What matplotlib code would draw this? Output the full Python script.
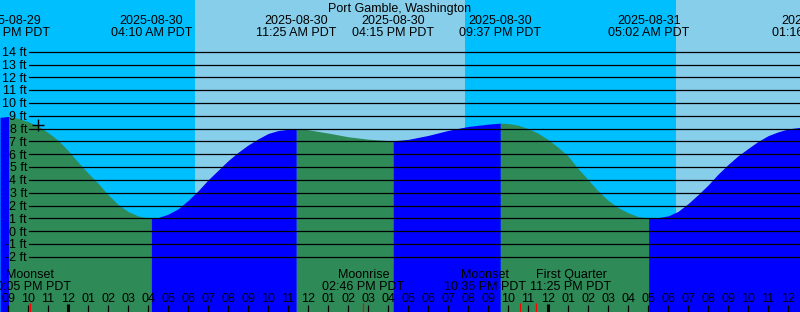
import matplotlib
matplotlib.use('Agg')
import numpy as np
import matplotlib.pyplot as plt
from matplotlib.transforms import blended_transform_factory, offset_copy

# === 数据 (时间: 距 2025-08-30 00:00 PDT 的小时数) ===
station = 'Port Gamble, Washington'

# 潮位曲线 (从图上读取, ft)
curve_hours = [-3.4, -3.0, -2.95, -2.5, -2, -1.5, -1, -0.5, 0, 0.5, 1, 1.5, 2, 2.5, 3, 3.5,
               4, 4.167, 4.5, 5, 5.5, 6, 6.5, 7, 7.5, 8, 8.5, 9, 9.5, 10, 10.5, 11, 11.417,
               12, 13, 14, 15, 16, 16.25, 17, 18, 19, 20, 21, 21.617,
               22, 22.5, 23, 23.5, 24, 24.5, 25, 25.5, 26, 26.5, 27, 27.5, 28, 28.5, 29,
               29.033, 29.5, 30, 30.5, 31, 31.5, 32, 32.5, 33, 33.5, 34, 34.5, 35, 35.5,
               36, 36.6]
curve_ft = [8.88, 8.95, 8.95, 8.8, 8.55, 8.2, 7.7, 7.1, 6.3, 5.4, 4.54, 3.75, 2.86, 2.1,
            1.55, 1.2, 1.02, 1.0, 1.07, 1.33, 1.75, 2.4, 3.15, 4.0, 4.75, 5.5, 6.15, 6.72,
            7.2, 7.62, 7.85, 7.95, 8.0,
            7.92, 7.66, 7.37, 7.18, 7.07, 7.05, 7.16, 7.47, 7.86, 8.17, 8.35, 8.43,
            8.4, 8.28, 8.0, 7.65, 7.15, 6.55, 5.87, 4.9, 4.03, 3.15, 2.42, 1.85, 1.45,
            1.15, 1.03, 1.02, 1.06, 1.2, 1.55, 2.15, 2.85, 3.6, 4.45, 5.2, 5.88, 6.45,
            7.0, 7.45, 7.75, 7.98, 8.1]

# 高低潮
ext_hours = [-2.95, 4.167, 11.417, 16.25, 21.617, 29.033, 37.267]
ext_dates = ['2025-08-29', '2025-08-30', '2025-08-30', '2025-08-30', '2025-08-30',
             '2025-08-31', '2025-08-31']
ext_times = ['09:03 PM PDT', '04:10 AM PDT', '11:25 AM PDT', '04:15 PM PDT',
             '09:37 PM PDT', '05:02 AM PDT', '01:16 PM PDT']

# 月相事件
moon_hours = [-1.917, 14.767, 22.6, 23.417]
moon_names = ['Moonset', 'Moonrise', 'Moonset', 'First Quarter']
moon_times = ['10:05 PM PDT', '02:46 PM PDT', '10:36 PM PDT', '11:25 PM PDT']
moon_shift = [0, 0, -1.75, 1.73]   # 标签避让

# 日出日落
sunrise_hours = [6.35, 30.4]
sunset_hours = [19.85]

levels = list(range(-2, 15))

# === 画布参数 ===
W, H = 800, 312
px_per_hour = 20.0
x_zero = 68.0            # 00:00 的像素位置
y_zero = 231.3           # 0 ft 的像素位置
px_per_ft = 12.83
night_c = '#00BFFF'
day_c = '#87CEEB'
fall_c = '#2E8B57'
rise_c = '#0000FF'
plt.rcParams['font.family'] = ['Liberation Sans', 'DejaVu Sans']
fs = 9

t0 = -x_zero / px_per_hour
t1 = (W - x_zero) / px_per_hour
y_lo = -(H - y_zero) / px_per_ft
y_hi = y_zero / px_per_ft

fig = plt.figure(figsize=(W / 100, H / 100), dpi=100)
ax = fig.add_axes([0, 0, 1, 1])
ax.set_xlim(t0, t1)
ax.set_ylim(y_lo, y_hi)
ax.axis('off')
ax.set_facecolor(night_c)
fig.patch.set_facecolor(night_c)

# 白天背景
for a, b in zip(sunrise_hours, sunset_hours + [t1 + 1]):
    ax.axvspan(a, b, color=day_c, lw=0, zorder=0)

# 潮位填充: 落潮绿, 涨潮蓝
t = np.array(curve_hours)
h = np.array(curve_ft)
bounds = [t0 - 1] + ext_hours + [t1 + 1]
for a, b in zip(bounds[:-1], bounds[1:]):
    m = (t >= a) & (t <= b)
    if m.sum() < 2:
        continue
    seg_t, seg_h = t[m], h[m]
    c = rise_c if seg_h[-1] > seg_h[0] else fall_c
    ax.fill_between(seg_t, seg_h, y_lo, color=c, lw=0, zorder=1)

# 水平刻度线
x_line = t0 + 29 / px_per_hour
for lv in levels:
    ax.plot([x_line, t1], [lv, lv], color='black', lw=0.9, zorder=2)
lab_tr = offset_copy(ax.transData, fig, x=0, y=-4.3, units='dots')
for lv in levels:
    ax.text(t0 + 27 / px_per_hour, lv, f'{lv} ft', ha='right', va='baseline',
            fontsize=fs, transform=lab_tr, zorder=3)

# 当前时刻标记
ax.plot([-1.5], [8.25], marker='+', color='black', ms=9, mew=1, zorder=3)

bt = blended_transform_factory(ax.transData, ax.transAxes)

def py(p):
    return 1 - p / H

# 顶部标题与高低潮标签
ax.text(0.5, py(11.7), station, ha='center', va='baseline', fontsize=fs,
        transform=ax.transAxes, zorder=4)
for eh, d, tm in zip(ext_hours, ext_dates, ext_times):
    ax.text(eh, py(24), d, ha='center', va='baseline', fontsize=fs, transform=bt, zorder=4)
    ax.text(eh, py(36), tm, ha='center', va='baseline', fontsize=fs, transform=bt, zorder=4)

# 月相标签
for mh, name, tm, sh in zip(moon_hours, moon_names, moon_times, moon_shift):
    ax.text(mh + sh, py(277.7), name, ha='center', va='baseline', fontsize=fs,
            transform=bt, zorder=4)
    ax.text(mh + sh, py(290), tm, ha='center', va='baseline', fontsize=fs,
            transform=bt, zorder=4)

# 小时刻度
hours = np.arange(np.ceil(t0), np.floor(t1) + 1)
for hr in hours:
    hh = int(hr) % 24
    lab = f'{(hh - 1) % 12 + 1:02d}'
    ax.text(hr, py(301.7), lab, ha='center', va='baseline', fontsize=fs,
            transform=bt, zorder=4)
    if hh == 0:
        ax.plot([hr, hr], [0, py(304)], color='black', lw=2.2, transform=bt,
                solid_capstyle='butt', zorder=4)
    else:
        ax.plot([hr, hr], [0, py(305)], color='black', lw=0.9, transform=bt,
                solid_capstyle='butt', zorder=4)
for mh in moon_hours:
    ax.plot([mh, mh], [0, py(303)], color='red', lw=0.9, transform=bt,
            solid_capstyle='butt', zorder=5)

fig.savefig('out.png', dpi=100)
